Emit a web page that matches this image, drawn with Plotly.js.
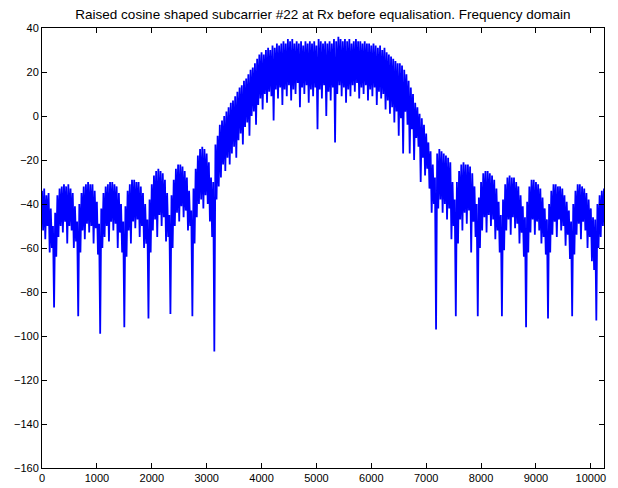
<!DOCTYPE html>
<html>
<head>
<meta charset="utf-8">
<script src="https://cdn.plot.ly/plotly-3.0.1.min.js"></script>
<style>html,body{margin:0;padding:0;background:#fff;}#chart{width:618px;height:488px;}</style>
</head>
<body>
<div id="chart"></div>
<script>
// Frequency bins: samples every binStep bins, starting at 0 (0 .. 10240)
const binStep = 40;
const chartTitle = "Raised cosine shaped subcarrier #22 at Rx before equalisation. Frequency domain";
const xTickVals = [0,1000,2000,3000,4000,5000,6000,7000,8000,9000,10000];
const yTickVals = [-160,-140,-120,-100,-80,-60,-40,-20,0,20,40];

// Upper edge of the dense spectrum band (dB), one value per sample
const upperDb = [
 -34,-33,-36,-35,-42,-50,-44,-36,-33,-32, -31,-32,-31,-33,-35,-41,-48,-40,-35,-32,
 -31,-30,-31,-31,-34,-39,-49,-42,-35,-32, -31,-30,-30,-31,-32,-35,-40,-48,-41,-34,
 -31,-29,-29,-30,-30,-32,-35,-40,-47,-38, -31,-27,-25,-24,-25,-26,-29,-35,-45,-36,
 -29,-24,-22,-22,-23,-25,-28,-34,-43,-33, -24,-18,-15,-14,-15,-17,-21,-28,-30,-13,
 -9,-4,-2,0,2,4,6,7,9,11, 13,14,16,17,19,21,22,24,26,28,
 29,28,30,31,30,32,31,33,32,33, 34,33,35,34,35,33,34,33,34,32,
 34,33,34,33,34,32,35,34,33,34, 33,34,33,35,34,36,35,34,35,34,
 35,33,34,35,34,34,33,34,33,33, 32,33,32,31,32,30,31,29,28,27,
 26,25,24,24,23,21,19,16,13,10, 6,4,1,-1,-4,-8,-12,-16,-22,-28,
 -17,-15,-16,-17,-18,-19,-21,-30,-38,-30, -25,-22,-21,-22,-22,-23,-26,-32,-40,-37,
 -30,-26,-25,-25,-26,-27,-29,-33,-39,-45, -38,-31,-28,-27,-28,-28,-30,-32,-36,-41,
 -46,-39,-32,-29,-29,-30,-31,-33,-37,-42, -47,-40,-34,-31,-31,-32,-32,-33,-36,-39,
 -43,-48,-40,-34,-31,-31,-32,-33,-35,-38, -42,-46,-47,-40,-36,-34,-33
];

// Lower edge of the band (dB), incl. the deep notches between lobes
const lowerDb = [
 -52,-56,-50,-62,-60,-87,-64,-55,-50,-53, -48,-58,-50,-52,-60,-57,-91,-62,-52,-56,
 -49,-53,-50,-58,-51,-63,-99,-60,-55,-50, -57,-48,-52,-49,-60,-53,-62,-96,-64,-52,
 -58,-48,-51,-47,-55,-50,-60,-58,-92,-62, -52,-47,-55,-45,-50,-46,-57,-55,-90,-60,
 -50,-44,-48,-41,-46,-43,-52,-50,-91,-58, -46,-40,-38,-42,-36,-40,-48,-55,-107,-38,
 -32,-28,-22,-25,-19,-22,-17,-14,-19,-11, -8,-13,-5,-3,-9,0,2,-4,5,8,
 3,10,6,11,9,-2,12,8,13,5, 12,9,14,7,12,10,15,4,13,10,
 14,6,12,9,13,-6,12,8,14,0, 11,7,13,-12,10,14,9,13,6,12,
 9,14,11,15,8,13,10,14,7,12, 9,13,5,11,8,10,3,7,1,4,
 -3,2,-9,-1,-17,2,-4,-17,-6,-20, -10,-14,-30,-19,-27,-24,-33,-44,-40,-97,
 -42,-38,-44,-40,-47,-42,-56,-50,-91,-58, -47,-52,-44,-49,-43,-62,-48,-55,-91,-60,
 -52,-46,-53,-45,-50,-47,-56,-52,-62,-91, -61,-52,-47,-54,-46,-51,-49,-58,-53,-64,
 -96,-62,-53,-47,-54,-48,-52,-58,-55,-63, -92,-62,-54,-48,-55,-47,-52,-50,-59,-54,
 -65,-91,-63,-54,-49,-56,-48,-52,-60,-55, -66,-70,-93,-60,-55,-50,-52
];

// Interleave upper and lower edges into one dense trace
const xs = [], ys = [];
for (let i = 0; i < upperDb.length; i++) {
  xs.push(i * binStep); ys.push(upperDb[i]);
  if (i < lowerDb.length) { xs.push(i * binStep + binStep / 2); ys.push(lowerDb[i]); }
}

const fontFam = "Liberation Sans, Arial, Helvetica, sans-serif";
const axisCommon = {
  showline: true, linecolor: "#000", linewidth: 1, mirror: "ticks",
  ticks: "inside", ticklen: 5, tickcolor: "#000", tickwidth: 1,
  showgrid: false, zeroline: false,
  tickfont: {family: fontFam, size: 11, color: "#000"}
};

Plotly.newPlot("chart", [{
  x: xs, y: ys, type: "scatter", mode: "lines",
  line: {color: "#0000ff", width: 1.8, simplify: false}, hoverinfo: "skip", showlegend: false
}], {
  width: 618, height: 488,
  margin: {l: 42, r: 14, t: 28, b: 20},
  paper_bgcolor: "#fff", plot_bgcolor: "#fff",
  title: {text: chartTitle, font: {family: fontFam, size: 13.5, color: "#000"},
          x: 0.5, xref: "paper", y: 1 - 14/488, yref: "container", yanchor: "middle"},
  xaxis: Object.assign({}, axisCommon, {range: [0, 10240], tickvals: xTickVals,
          ticktext: xTickVals.map(String)}),
  yaxis: Object.assign({}, axisCommon, {range: [-160, 40], tickvals: yTickVals})
}, {displayModeBar: false, staticPlot: true});
</script>
</body>
</html>
